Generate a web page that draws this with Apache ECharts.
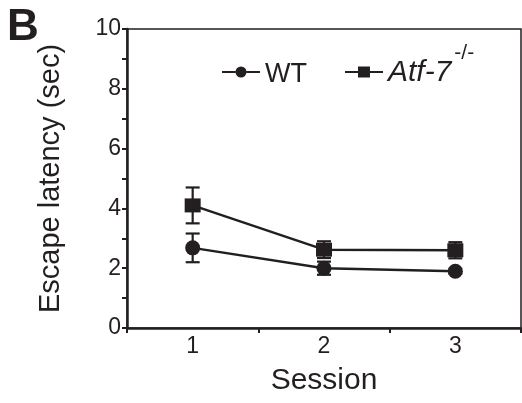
<!DOCTYPE html>
<html>
<head>
<meta charset="utf-8">
<script src="https://cdn.jsdelivr.net/npm/echarts@6/dist/echarts.min.js"></script>
<style>html,body{margin:0;padding:0;background:#fff}#c{width:522px;height:403px}</style>
</head>
<body>
<div id="c"></div>
<script>
var sessions = ['1', '2', '3'];
var wtMean = [2.68, 2.0, 1.9];
var wtErr = [0.48, 0.22, 0.08];
var koMean = [4.1, 2.62, 2.6];
var koErr = [0.6, 0.28, 0.27];
var yTicks = [0, 2, 4, 6, 8, 10];

var INK = '#231f20';
var FONT = '"Liberation Sans", Arial, Helvetica, sans-serif';

function errData(mean, err) {
  return mean.map(function (m, i) { return [i, m - err[i], m + err[i]]; });
}
function errRender(params, api) {
  var x = api.value(0);
  var lo = api.coord([x, api.value(1)]);
  var hi = api.coord([x, api.value(2)]);
  var w = 7;
  var st = { stroke: INK, lineWidth: 2.2 };
  return {
    type: 'group',
    children: [
      { type: 'line', shape: { x1: hi[0], y1: hi[1], x2: lo[0], y2: lo[1] }, style: st },
      { type: 'line', shape: { x1: hi[0] - w, y1: hi[1], x2: hi[0] + w, y2: hi[1] }, style: st },
      { type: 'line', shape: { x1: lo[0] - w, y1: lo[1], x2: lo[0] + w, y2: lo[1] }, style: st }
    ]
  };
}

var circleIcon = 'path://M0,5 H13.5 V7 H0 Z M24.5,5 H38 V7 H24.5 Z M19,0.5 A5.5,5.5 0 1,1 19,11.5 A5.5,5.5 0 1,1 19,0.5 Z';
var squareIcon = 'path://M0,5 H13 V7 H0 Z M25,5 H38 V7 H25 Z M13,0.5 H25 V11.5 H13 Z';

var chart = echarts.init(document.getElementById('c'), null, { renderer: 'canvas' });
chart.setOption({
  animation: false,
  backgroundColor: '#fff',
  textStyle: { fontFamily: FONT, color: INK },
  grid: { left: 127, right: 1, top: 29, bottom: 75, show: true, borderColor: INK, borderWidth: 1.5, backgroundColor: 'transparent' },
  graphic: [
    { type: 'text', left: 7, top: 6, style: { text: 'B', font: 'bold 44px ' + FONT, fill: INK } }
  ],
  legend: {
    left: 217, top: 38,
    itemWidth: 38, itemHeight: 12, itemGap: 38,
    data: [
      { name: 'WT', icon: circleIcon },
      { name: 'Atf-7', icon: squareIcon }
    ],
    formatter: function (n) { return n === 'WT' ? '{n|WT}' : '{i|Atf-7}{s|-/-}'; },
    textStyle: {
      color: INK,
      rich: {
        n: { fontSize: 27, fontFamily: FONT, color: INK, lineHeight: 32, verticalAlign: 'bottom' },
        i: { fontSize: 30, fontFamily: FONT, fontStyle: 'italic', color: INK, lineHeight: 32, verticalAlign: 'bottom' },
        s: { fontSize: 21, fontFamily: FONT, color: INK, verticalAlign: 'bottom', lineHeight: 22, padding: [0, 0, 24, 3] }
      }
    }
  },
  xAxis: {
    type: 'category',
    data: sessions,
    boundaryGap: true,
    name: 'Session',
    nameLocation: 'middle',
    nameGap: 38,
    nameTextStyle: { fontSize: 30, fontFamily: FONT, color: INK },
    axisLine: { lineStyle: { color: INK, width: 2.5 } },
    axisTick: { show: true, length: 5, lineStyle: { color: INK, width: 2 } },
    axisLabel: { fontSize: 23, fontFamily: FONT, color: INK, margin: 7 },
    splitLine: { show: false }
  },
  yAxis: {
    type: 'value',
    min: 0, max: 10, interval: 1,
    name: 'Escape latency (sec)',
    nameLocation: 'middle',
    nameGap: 62,
    nameTextStyle: { fontSize: 29, fontFamily: FONT, color: INK },
    axisLine: { show: true, lineStyle: { color: INK, width: 2.5 } },
    axisTick: { show: true, length: 5, lineStyle: { color: INK, width: 2 } },
    axisLabel: {
      fontSize: 23, fontFamily: FONT, color: INK, margin: 6,
      formatter: function (v) { return yTicks.indexOf(v) >= 0 ? String(v) : ''; }
    },
    splitLine: { show: false }
  },
  series: [
    {
      name: 'WT-err', type: 'custom', renderItem: errRender,
      data: errData(wtMean, wtErr), encode: { x: 0, y: [1, 2] }, z: 3, silent: true
    },
    {
      name: 'Atf-7-err', type: 'custom', renderItem: errRender,
      data: errData(koMean, koErr), encode: { x: 0, y: [1, 2] }, z: 3, silent: true
    },
    {
      name: 'WT', type: 'line', data: wtMean,
      symbol: 'circle', symbolSize: 15,
      lineStyle: { color: INK, width: 2.5 },
      itemStyle: { color: INK },
      z: 4
    },
    {
      name: 'Atf-7', type: 'line', data: koMean,
      symbol: 'rect', symbolSize: [16, 14],
      lineStyle: { color: INK, width: 2.5 },
      itemStyle: { color: INK },
      z: 4
    }
  ]
});
</script>
</body>
</html>
